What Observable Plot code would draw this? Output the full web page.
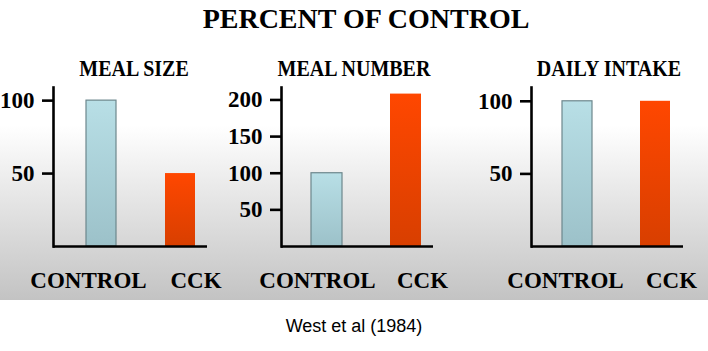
<!DOCTYPE html>
<html><head><meta charset="utf-8">
<script src="https://cdn.jsdelivr.net/npm/d3@7"></script>
<script src="https://cdn.jsdelivr.net/npm/@observablehq/plot@0.6"></script>
<style>
body{margin:0;background:#fff;}
#slide{position:relative;width:708px;height:300px;background:linear-gradient(to bottom,#fff 0px,#fff 125px,#c3c3c3 300px);overflow:hidden;}
.t{position:absolute;white-space:nowrap;font-family:"Liberation Serif","Times New Roman",serif;font-weight:bold;line-height:1;color:#000;}
#title{font-size:28px;top:4.5px;left:366px;transform:translateX(-50%);}
.pt{font-size:20px;top:59px;transform-origin:50% 16.75px;transform:translateX(-50%) scaleY(1.2);}
.plotbox{position:absolute;left:0;top:80px;}
#caption{position:absolute;top:316.8px;left:0;width:708px;text-align:center;font:18px/1 "Liberation Sans",Arial,sans-serif;color:#000;}
</style></head>
<body>
<div id="slide"><div id="title" class="t">PERCENT OF CONTROL</div></div>
<div id="caption">West et al (1984)</div>
<script>
const groups = ["CONTROL", "CCK"];
const mealSize = [100, 50];
const mealNumber = [100, 208];
const dailyIntake = [100, 100];
const panelTitles = ["MEAL SIZE", "MEAL NUMBER", "DAILY INTAKE"];
const ticksPercent = [50, 100];
const ticksNumber = [50, 100, 150, 200];

// layout (pixels) for each panel
const layout = [
  {values: mealSize, ticks: ticksPercent, yMax: 109, axisX: 53, right: 207, bars: [85.75, 195.75], pad: 0.6164, titleX: 134, dx: [-13, 15.5]},
  {values: mealNumber, ticks: ticksNumber, yMax: 217, axisX: 281, right: 433, bars: [311, 421], pad: 0.608, titleX: 354, dx: [-9.5, 16.5]},
  {values: dailyIntake, ticks: ticksPercent, yMax: 109.5, axisX: 531, right: 683, bars: [562, 671], pad: 0.6115, titleX: 609, dx: [-12, 16]}
];

const slide = document.getElementById("slide");

layout.forEach((p, k) => {
  const t = document.createElement("div");
  t.className = "t pt";
  t.style.left = p.titleX + "px";
  t.textContent = panelTitles[k];
  slide.appendChild(t);

  const data = groups.map((g, i) => ({group: g, value: p.values[i]}));
  const defs = () => {
    const d = d3.create("svg:defs");
    const g1 = d.append("linearGradient").attr("id", "ctl" + k).attr("x1", 0).attr("y1", 0).attr("x2", 0).attr("y2", 1);
    g1.append("stop").attr("offset", "0%").attr("stop-color", "#b8dfe6");
    g1.append("stop").attr("offset", "100%").attr("stop-color", "#9cc1c9");
    const g2 = d.append("linearGradient").attr("id", "cck" + k).attr("x1", 0).attr("y1", 0).attr("x2", 0).attr("y2", 1);
    g2.append("stop").attr("offset", "0%").attr("stop-color", "#ff4700");
    g2.append("stop").attr("offset", "100%").attr("stop-color", "#d83f00");
    return d.node();
  };
  const axisText = {tickSize: 0, tickPadding: 25, fontSize: 23, label: null};
  const chart = Plot.plot({
    width: 708, height: 220,
    marginTop: 7, marginBottom: 54, marginLeft: p.axisX, marginRight: 708 - p.right,
    style: {background: "transparent", color: "#000", fontFamily: "'Liberation Serif', 'Times New Roman', serif", fontWeight: "bold", overflow: "visible"},
    x: {domain: groups, range: p.bars, paddingInner: p.pad, paddingOuter: 0},
    y: {domain: [0, p.yMax]},
    color: {domain: groups, range: [`url(#ctl${k})`, `url(#cck${k})`]},
    marks: [
      defs,
      Plot.barY(data, {x: "group", y: "value", fill: "group"}),
      Plot.barY(data, {filter: d => d.group === "CONTROL", x: "group", y: "value", fill: "none", stroke: "#6d878d", strokeWidth: 1.2}),
      Plot.ruleY([0], {strokeWidth: 2.6}),
      Plot.frame({anchor: "left", strokeWidth: 2.6}),
      Plot.axisY({ticks: p.ticks, tickSize: 11, tickPadding: 8, fontSize: 23, strokeWidth: 2.6, label: null}),
      Plot.axisX([groups[0]], {...axisText, dx: p.dx[0]}),
      Plot.axisX([groups[1]], {...axisText, dx: p.dx[1]})
    ]
  });
  chart.classList.add("plotbox");
  chart.style.position = "absolute";
  chart.style.left = "0px";
  chart.style.top = "80px";
  slide.appendChild(chart);
});
</script>
</body></html>
